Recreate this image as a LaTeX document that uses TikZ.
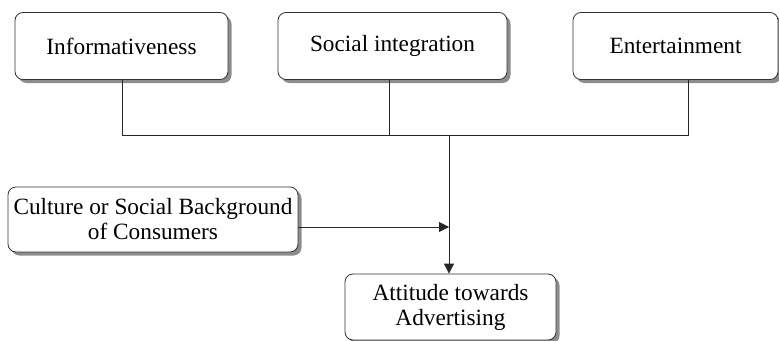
\documentclass[tikz,border=0pt]{standalone}
\usepackage{fontspec}
\setmainfont{Liberation Serif}
\usetikzlibrary{arrows.meta,shadows}
\begin{document}
\begin{tikzpicture}[x=1pt,y=-1pt,
  box/.style={draw=black!80,line width=0.8pt,rounded corners=8pt,fill=white,
    drop shadow={shadow xshift=3.5pt,shadow yshift=-3.5pt,fill=black!45,opacity=1},
    inner sep=0pt,font=\fontsize{23.3}{25}\selectfont,align=center},
  conn/.style={draw=black!85,line width=0.8pt},
  arr/.style={conn,-{Triangle[length=10pt,width=10pt]}}]
\useasboundingbox (0,0) rectangle (779,340);
\node[box,minimum width=213pt,minimum height=67pt] (inf) at (121.5,46) {Informativeness};
\node[box,minimum width=229pt,minimum height=67pt] (soc) at (392.5,46) {Social integration};
\node[box,minimum width=205pt,minimum height=67pt] (ent) at (675.5,46) {Entertainment};
\node[box,minimum width=290pt,minimum height=65pt] (cul) at (153,219.5) {Culture or Social Background\\of Consumers};
\node[box,minimum width=211pt,minimum height=66pt] (att) at (450.5,307) {Attitude towards\\Advertising};
\coordinate (jn) at (449,135);
\coordinate (mid) at (449,227);
\coordinate (ix) at (122,135);
\coordinate (sx) at (389,135);
\coordinate (ex) at (688,135);
\draw[conn] (inf.south -| ix) -- (ix) -- (ex) -- (ent.south -| ex);
\draw[conn] (soc.south -| sx) -- (sx);
\draw[arr] (jn) -- (att.north -| jn);
\draw[arr] (cul.east |- mid) -- (mid);
\end{tikzpicture}
\end{document}
